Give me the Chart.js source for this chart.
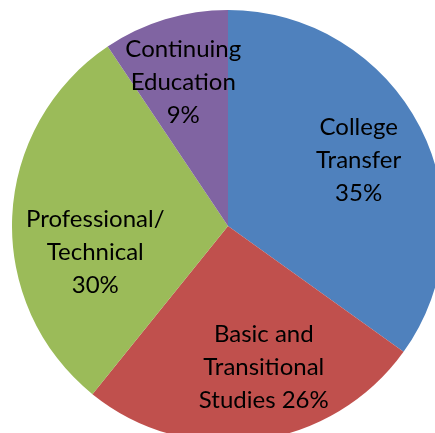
<!DOCTYPE html>
<html lang="en">
<head>
    <meta charset="UTF-8">
    <title>Enrollment by program area</title>
    <style>
        html, body { margin: 0; padding: 0; background: #fff; overflow: hidden; width: 435px; height: 433px; }
        #box { position: absolute; left: 12px; top: 10px; width: 432px; height: 432px; }
    </style>
</head>
<body>
    <div id="box">
        <canvas id="pieChart" width="432" height="432"></canvas>
    </div>

    <script src="https://cdn.jsdelivr.net/npm/chart.js@4.4.9/dist/chart.umd.min.js"></script>
    <script>
    // data
    const categorias = [
        ['College', 'Transfer'],
        ['Basic and', 'Transitional', 'Studies'],
        ['Professional/', 'Technical'],
        ['Continuing', 'Education']
    ];
    const valores = [34.9, 25.9, 29.8, 9.4];
    const cores = ['#4F81BD', '#C0504D', '#9BBB59', '#8064A2'];

    // label nudges (px) relative to the point at 68% radius on the slice's mid angle
    const ajustes = [[0, 1], [16, -4], [14, 33], [-2, -3]];

    const rotulos = {
        id: 'rotulos',
        afterDatasetsDraw(chart) {
            const ctx = chart.ctx;
            const arcs = chart.getDatasetMeta(0).data;
            ctx.save();
            ctx.font = '24px Lato, "Open Sans", sans-serif';
            ctx.fillStyle = '#000';
            ctx.textAlign = 'center';
            ctx.textBaseline = 'middle';
            arcs.forEach((arc, i) => {
                const p = arc.getProps(['x', 'y', 'startAngle', 'endAngle', 'outerRadius'], true);
                const meio = (p.startAngle + p.endAngle) / 2;
                const r = p.outerRadius * 0.68;
                const cx = p.x + Math.cos(meio) * r + ajustes[i][0];
                const cy = p.y + Math.sin(meio) * r + ajustes[i][1];
                let linhas = categorias[i].slice();
                const pct = Math.round(valores[i]) + '%';
                if (i === 1) {
                    linhas[linhas.length - 1] += ' ' + pct;
                } else {
                    linhas.push(pct);
                }
                const lh = 33;
                const y0 = cy - (linhas.length - 1) * lh / 2;
                linhas.forEach((t, k) => ctx.fillText(t, cx, y0 + k * lh));
            });
            ctx.restore();
        }
    };

    new Chart(document.getElementById('pieChart'), {
        type: 'pie',
        data: {
            labels: categorias.map(c => c.join(' ')),
            datasets: [{
                data: valores,
                backgroundColor: cores,
                borderWidth: 0
            }]
        },
        options: {
            responsive: false,
            animation: false,
            devicePixelRatio: 1,
            layout: { padding: 0 },
            plugins: {
                legend: { display: false },
                tooltip: { enabled: false }
            }
        },
        plugins: [rotulos]
    });
    </script>
</body>
</html>
